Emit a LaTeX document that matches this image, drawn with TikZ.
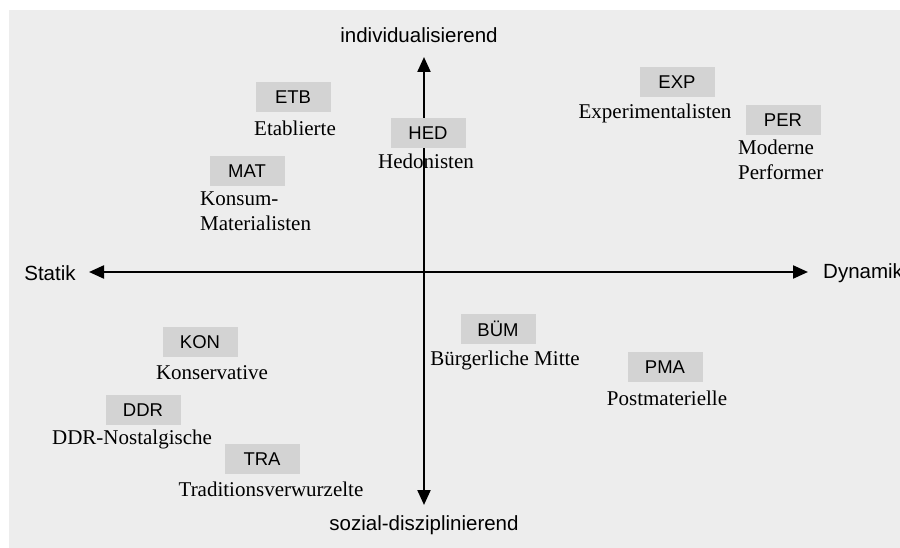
\documentclass[tikz,border=0pt]{standalone}
\usepackage{fontspec}
\setmainfont{Liberation Serif}
\newfontfamily\sansf{Liberation Sans}
\usetikzlibrary{arrows.meta}
\definecolor{bggray}{HTML}{EDEDED}
\definecolor{boxgray}{HTML}{D3D3D3}
\begin{document}
\begin{tikzpicture}[x=1pt,y=-1pt,
  abbr/.style={fill=boxgray,minimum width=75pt,minimum height=30pt,inner sep=0pt,font=\sansf\fontsize{18.5}{20}\selectfont},
  grpname/.style={inner sep=0pt,font=\fontsize{21}{25}\selectfont,align=left},
  axislabel/.style={inner sep=0pt,font=\sansf\fontsize{20.5}{24}\selectfont},
  axisline/.style={line width=2.2pt,{Triangle[length=15pt,width=13pt]}-{Triangle[length=15pt,width=13pt]}}]
\useasboundingbox (0,0) rectangle (900,548);
\fill[bggray] (9,10) rectangle (900,548);
% names
\node[grpname] (tETB) at (295,128) {Etablierte};
\node[grpname,anchor=west] (tMAT) at (200,211) {Konsum-\\Materialisten};
\node[grpname] (tHED) at (426,161) {Hedonisten};
\node[grpname] (tEXP) at (655,113) {Experimentalisten};
\node[grpname,anchor=west] (tPER) at (738,160) {Moderne\\Performer};
\node[grpname] (tKON) at (212,373) {Konservative};
\node[grpname] (tDDR) at (132,439) {DDR-Nostalgische};
\node[grpname] (tTRA) at (271,489) {Traditionsverwurzelte};
\node[grpname] (tBUM) at (505,360) {Bürgerliche Mitte};
\node[grpname] (tPMA) at (667,398) {Postmaterielle};
% axes
\coordinate (up) at (424,57);
\coordinate (down) at (424,505);
\coordinate (left) at (89,272);
\coordinate (right) at (808,272);
\draw[axisline] (down) -- (up);
\draw[axisline] (left) -- (right);
\node[axislabel] (lup) at (419,35) {individualisierend};
\node[axislabel] (ldown) at (424,525) {sozial-disziplinierend};
\node[axislabel] (lleft) at (50,273) {Statik};
\node[axislabel,anchor=west] (lright) at (823,273) {Dynamik};
% boxes
\node[abbr] (ETB) at (293,97) {ETB};
\node[abbr] (MAT) at (247,171) {MAT};
\node[abbr] (HED) at (428,133) {HED};
\node[abbr] (EXP) at (677,82) {EXP};
\node[abbr] (PER) at (783,120) {PER};
\node[abbr] (KON) at (200,342) {KON};
\node[abbr] (DDR) at (143,410) {DDR};
\node[abbr] (TRA) at (262,459) {TRA};
\node[abbr] (BUM) at (498,329) {BÜM};
\node[abbr] (PMA) at (665,367) {PMA};
\end{tikzpicture}
\end{document}
